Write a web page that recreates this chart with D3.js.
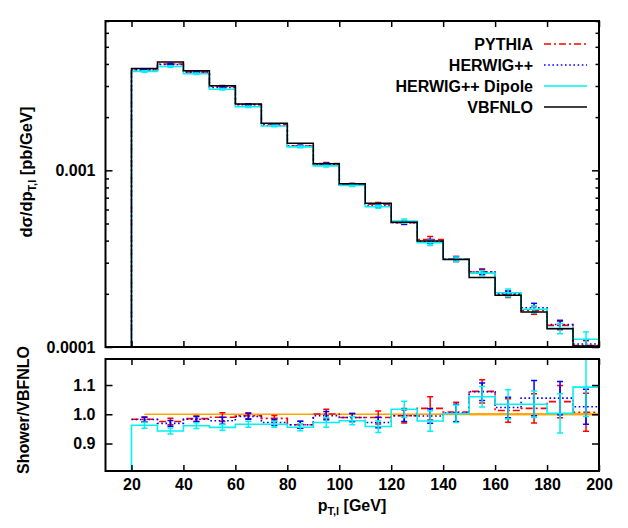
<!DOCTYPE html>
<html><head><meta charset="utf-8">
<script src="https://cdn.jsdelivr.net/npm/d3@7"></script>
<style>
body{margin:0;background:#fff}
text{font-family:"Liberation Sans",Arial,Helvetica,sans-serif;font-weight:bold;fill:#000}
</style>
</head><body>
<svg id="chart" width="628" height="528"></svg>
<script>
// ---------- data ----------
const binEdges = [20,30,40,50,60,70,80,90,100,110,120,130,140,150,160,170,180,190,200];
const vbfnlo = [0.00377,0.0041,0.00366,0.00301,0.00237,0.001845,0.001421,0.00109,0.00084,0.00065,0.000508,0.000398,0.000313,0.000247,0.000196,0.000158,0.000127,0.0001013];
const pythia = [0.003706,0.003998,0.003605,0.00298,0.002358,0.001819,0.00137,0.001091,0.0008308,0.0006429,0.0005055,0.000406,0.0003155,0.0002663,0.0001985,0.0001612,0.0001325,0.000102];
const herwig = [0.003702,0.003973,0.003598,0.002944,0.002353,0.001793,0.00137,0.0010846,0.0008308,0.0006318,0.0005055,0.0003956,0.0003143,0.000266,0.0002005,0.0001667,0.000134,0.0001039];
const dipole = [0.003629,0.003866,0.003517,0.002875,0.002289,0.001782,0.001358,0.0010595,0.0008215,0.0006227,0.0005166,0.0003888,0.0003136,0.0002618,0.0002027,0.0001634,0.0001274,0.0001107];
// relative statistical errors
const pythiaErr = [0.008,0.011,0.009,0.015,0.01,0.01,0.012,0.016,0.014,0.022,0.025,0.04,0.033,0.04,0.04,0.05,0.055,0.065];
const herwigErr = [0.008,0.01,0.009,0.012,0.01,0.01,0.012,0.014,0.014,0.018,0.02,0.025,0.03,0.03,0.035,0.06,0.057,0.06];
const dipoleErr = [0.01,0.01,0.01,0.01,0.01,0.01,0.012,0.016,0.014,0.02,0.028,0.035,0.03,0.035,0.05,0.045,0.067,0.1];
const vbfnloErr = [0.001,0.001,0.001,0.001,0.001,0.001,0.001,0.001,0.0012,0.0013,0.0015,0.0018,0.0035,0.004,0.004,0.004,0.004,0.004];
const xTicks = [20,40,60,80,100,120,140,160,180,200];
const yTopMajor = [0.0001,0.001];
const yTopLabels = ["0.0001","0.001"];
const yTopMinor = [2e-4,3e-4,4e-4,5e-4,6e-4,7e-4,8e-4,9e-4,2e-3,3e-3,4e-3,5e-3,6e-3,7e-3];
const yRatioTicks = [0.9,1.0,1.1];
const seriesNames = ["PYTHIA","HERWIG++","HERWIG++ Dipole","VBFNLO"];

// ---------- layout ----------
const L=105.5, R=599, T1=21, B1=347, T2=359, B2=471;
const svg = d3.select("#chart");
const x = d3.scaleLinear().domain([10,200]).range([L,R]);
const yTop = d3.scaleLog().domain([1e-4,7e-3]).range([B1,T1]);
const yRat = d3.scaleLinear().domain([0.806,1.189]).range([B2,T2]);

const CYAN = "#00f2f2";
const styles = [
  {name:seriesNames[0], color:"#ff0000", dash:"7,3,2,3", w:1.6, vals:pythia, err:pythiaErr, drop:false},
  {name:seriesNames[1], color:"#0000ff", dash:"1.6,2.6", w:1.6, vals:herwig, err:herwigErr, drop:false},
  {name:seriesNames[2], color:CYAN, dash:null, w:1.6, vals:dipole, err:dipoleErr, drop:true}
];

const defs = svg.append("defs");
defs.append("clipPath").attr("id","clipTop").append("rect").attr("x",L).attr("y",T1).attr("width",R-L).attr("height",B1-T1);
defs.append("clipPath").attr("id","clipRat").append("rect").attr("x",L).attr("y",T2).attr("width",R-L).attr("height",B2-T2);

function stepPoints(vals, base){
  const pts = base==null ? [] : [{x:binEdges[0], y:base}];
  vals.forEach((v,i)=>pts.push({x:binEdges[i], y:v}));
  pts.push({x:binEdges[binEdges.length-1], y:vals[vals.length-1]});
  return pts;
}
const centers = binEdges.slice(0,-1).map((e,i)=>(e+binEdges[i+1])/2);

function errorBars(g, color, vals, lo, hi, ys){
  const eb = g.append("g").attr("stroke",color).attr("stroke-width",1.5);
  vals.forEach((v,i)=>{
    const cx=x(centers[i]), y1=ys(hi[i]), y2=ys(lo[i]);
    eb.append("line").attr("x1",cx).attr("x2",cx).attr("y1",y1).attr("y2",y2);
    eb.append("line").attr("x1",cx-3).attr("x2",cx+3).attr("y1",y1).attr("y2",y1);
    eb.append("line").attr("x1",cx-3).attr("x2",cx+3).attr("y1",y2).attr("y2",y2);
  });
}

// ---------- top panel ----------
const gTop = svg.append("g").attr("clip-path","url(#clipTop)");
const lineTop = d3.line().x(d=>x(d.x)).y(d=>yTop(d.y)).curve(d3.curveStepAfter);
styles.forEach(s=>{
  gTop.append("path").datum(stepPoints(s.vals, 1e-4))
    .attr("d",lineTop).attr("fill","none").attr("stroke",s.color)
    .attr("stroke-width",s.w).attr("stroke-dasharray",s.dash);
  errorBars(gTop, s.color, s.vals,
    s.vals.map((v,i)=>v*(1-s.err[i])), s.vals.map((v,i)=>v*(1+s.err[i])), yTop);
});
gTop.append("path").datum(stepPoints(vbfnlo, 1e-4))
  .attr("d",lineTop).attr("fill","none").attr("stroke","#000").attr("stroke-width",1.5);

// ---------- ratio panel ----------
const gRat = svg.append("g").attr("clip-path","url(#clipRat)");
const gOr = gRat.append("g").attr("fill","#ffa500");
vbfnloErr.forEach((e,i)=>{
  const x0 = i===0 ? x(centers[0]) : x(binEdges[i]);
  gOr.append("rect").attr("x",x0).attr("width",x(binEdges[i+1])-x0)
    .attr("y",yRat(1+e)).attr("height",Math.max(0,yRat(1-e)-yRat(1+e)));
});
gRat.append("line").attr("x1",x(centers[0])).attr("x2",x(200)).attr("y1",yRat(1)).attr("y2",yRat(1))
  .attr("stroke","#ffa500").attr("stroke-width",1.5);

const lineRat = d3.line().x(d=>x(d.x)).y(d=>yRat(d.y)).curve(d3.curveStepAfter);
styles.forEach(s=>{
  const r = s.vals.map((v,i)=>v/vbfnlo[i]);
  gRat.append("path").datum(stepPoints(r, s.drop ? 0.5 : null))
    .attr("d",lineRat).attr("fill","none").attr("stroke",s.color)
    .attr("stroke-width",s.w).attr("stroke-dasharray",s.dash);
  errorBars(gRat, s.color, r, r.map((v,i)=>v-s.err[i]), r.map((v,i)=>v+s.err[i]), yRat);
});

// ---------- axes ----------
function styleAxis(g, showText){
  g.select(".domain").remove();
  g.selectAll(".tick line").attr("stroke","#000").attr("stroke-width",1.5);
  g.selectAll(".tick text").attr("font-size",16).attr("font-family","Liberation Sans, Arial, sans-serif").attr("font-weight","bold");
  if(!showText) g.selectAll(".tick text").remove();
}
styleAxis(svg.append("g").attr("transform",`translate(${L},0)`)
  .call(d3.axisLeft(yTop).tickValues(yTopMajor).tickSize(-7).tickPadding(10).tickFormat((d,i)=>yTopLabels[i])), true);
styleAxis(svg.append("g").attr("transform",`translate(${L},0)`)
  .call(d3.axisLeft(yTop).tickValues(yTopMinor).tickSize(-3.5)), false);
styleAxis(svg.append("g").attr("transform",`translate(${R},0)`)
  .call(d3.axisRight(yTop).tickValues(yTopMajor).tickSize(-7)), false);
styleAxis(svg.append("g").attr("transform",`translate(${R},0)`)
  .call(d3.axisRight(yTop).tickValues(yTopMinor).tickSize(-3.5)), false);
styleAxis(svg.append("g").attr("transform",`translate(0,${B1})`)
  .call(d3.axisBottom(x).tickValues(xTicks).tickSize(-6)), false);
styleAxis(svg.append("g").attr("transform",`translate(0,${T1})`)
  .call(d3.axisTop(x).tickValues(xTicks).tickSize(-6)), false);
styleAxis(svg.append("g").attr("transform",`translate(${L},0)`)
  .call(d3.axisLeft(yRat).tickValues(yRatioTicks).tickSize(-7).tickPadding(10).tickFormat(d3.format(".1f"))), true);
styleAxis(svg.append("g").attr("transform",`translate(${R},0)`)
  .call(d3.axisRight(yRat).tickValues(yRatioTicks).tickSize(-7)), false);
styleAxis(svg.append("g").attr("transform",`translate(0,${B2})`)
  .call(d3.axisBottom(x).tickValues(xTicks).tickSize(-6).tickPadding(8).tickFormat(d3.format("d"))), true);
styleAxis(svg.append("g").attr("transform",`translate(0,${T2})`)
  .call(d3.axisTop(x).tickValues(xTicks).tickSize(-6)), false);

[[T1,B1],[T2,B2]].forEach(([t,b])=>{
  svg.append("rect").attr("x",L).attr("y",t).attr("width",R-L).attr("height",b-t)
    .attr("fill","none").attr("stroke","#000").attr("stroke-width",2);
});

// ---------- legend ----------
const legItems = [
  {name:seriesNames[0], color:"#ff0000", dash:"7,3,2,3"},
  {name:seriesNames[1], color:"#0000ff", dash:"1.6,2.6"},
  {name:seriesNames[2], color:CYAN, dash:null},
  {name:seriesNames[3], color:"#000000", dash:null}
];
const leg = svg.append("g");
legItems.forEach((d,i)=>{
  const cy = 44 + i*21;
  leg.append("text").attr("x",533).attr("y",cy+5.5).attr("text-anchor","end").attr("font-size",16).text(d.name);
  leg.append("line").attr("x1",544).attr("x2",587).attr("y1",cy).attr("y2",cy)
    .attr("stroke",d.color).attr("stroke-width",1.6).attr("stroke-dasharray",d.dash);
});

// ---------- axis titles ----------
const xt = svg.append("text").attr("x",352).attr("y",511).attr("text-anchor","middle").attr("font-size",16);
xt.append("tspan").text("p");
xt.append("tspan").attr("font-size",11).attr("dy",4).text("T,l");
xt.append("tspan").attr("dy",-4).text(" [GeV]");

const yt = svg.append("text").attr("transform","translate(32,172) rotate(-90)").attr("text-anchor","middle").attr("font-size",16.5);
yt.append("tspan").text("dσ/dp");
yt.append("tspan").attr("font-size",11).attr("dy",4).text("T,l");
yt.append("tspan").attr("dy",-4).text(" [pb/GeV]");

svg.append("text").attr("transform","translate(29,410) rotate(-90)").attr("text-anchor","middle").attr("font-size",16).text("Shower/VBFNLO");
</script>
</body></html>
